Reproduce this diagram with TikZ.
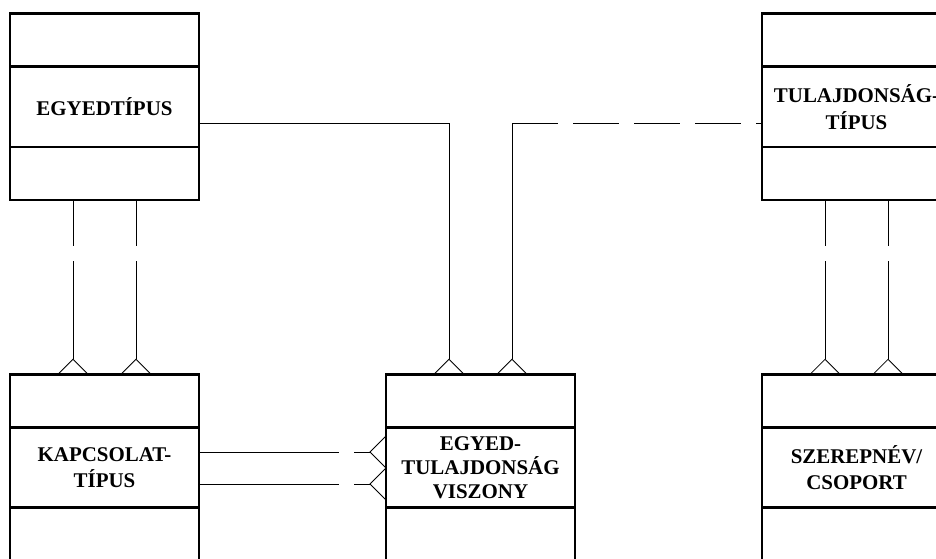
\documentclass[tikz,border=0pt]{standalone}
\usepackage{fontspec}
\setmainfont{Liberation Serif}
\usetikzlibrary{positioning}

\begin{document}
\begin{tikzpicture}[x=0.75pt,y=-0.75pt,
  box/.style={draw,line width=1.9pt,minimum width=141.75pt,inner sep=0pt,outer sep=0pt},
  midbox/.style={box,minimum height=60.3pt,align=center,font=\bfseries\fontsize{15.7}{20}\selectfont},
  endbox/.style={box,minimum height=39.75pt},
  rel/.style={line width=0.6pt},
  halfdash/.style={dash pattern=on 34.5pt off 11.25pt},
  crowtop/.pic={\draw[rel] (-15,0) -- (0,-15) -- (15,0);},
  crowleft/.pic={\draw[rel] (0,-16) -- (-16,0) -- (0,16);}]
\useasboundingbox (0,0) rectangle (936,558);
\clip (0,0) rectangle (936,558);

% entity boxes
\node[midbox] (egyed) at (104.5,106.8) {EGYEDTÍPUS};
\node[endbox,above=0pt of egyed] (egyed_t) {};
\node[endbox,below=0pt of egyed] (egyed_b) {};

\node[midbox] (tulaj) at (856.5,106.8) {TULAJDONSÁG-\\TÍPUS};
\node[endbox,above=0pt of tulaj] (tulaj_t) {};
\node[endbox,below=0pt of tulaj] (tulaj_b) {};

\node[midbox] (kapcs) at (104.5,467.5) {KAPCSOLAT-\\TÍPUS};
\node[endbox,above=0pt of kapcs] (kapcs_t) {};
\node[endbox,below=0pt of kapcs] (kapcs_b) {};

\node[midbox] (viszony) at (480.5,467.5) {EGYED-\\[-2pt]TULAJDONSÁG\\[-2pt]VISZONY};
\node[endbox,above=0pt of viszony] (viszony_t) {};
\node[endbox,below=0pt of viszony] (viszony_b) {};

\node[midbox] (szerep) at (856.5,467.5) {SZEREPNÉV/\\CSOPORT};
\node[endbox,above=0pt of szerep] (szerep_t) {};
\node[endbox,below=0pt of szerep] (szerep_b) {};

% line positions
\foreach \n/\x in {a/73,b/136,c/449,d/512,e/825,f/888,m/293}
  \coordinate (x\n) at (\x,0);
\foreach \n/\y in {a/123,b/452,c/484,m/287}
  \coordinate (y\n) at (0,\y);

% egyedtipus -- kapcsolattipus
\foreach \k in {a,b} {
  \draw[rel,halfdash] (egyed_b.south -| x\k) -- (x\k |- ym);
  \draw[rel,shorten >=11.25pt] (x\k |- ym) -- (kapcs_t.north -| x\k);
  \pic at (kapcs_t.north -| x\k) {crowtop};
}

% tulajdonsagtipus -- szerepnev
\foreach \k in {e,f} {
  \draw[rel,halfdash] (tulaj_b.south -| x\k) -- (x\k |- ym);
  \draw[rel,shorten >=11.25pt] (x\k |- ym) -- (szerep_t.north -| x\k);
  \pic at (szerep_t.north -| x\k) {crowtop};
}

% kapcsolattipus -- egyed-tulajdonsag viszony
\foreach \k in {b,c} {
  \draw[rel] (kapcs.east |- y\k) -- (xm |- y\k);
  \draw[rel,halfdash,shorten >=12pt] (xm |- y\k) -- (viszony.west |- y\k);
  \pic at (viszony.west |- y\k) {crowleft};
}

% egyedtipus -- viszony
\draw[rel,shorten >=11.25pt] (egyed.east |- ya) -| (viszony_t.north -| xc);
\pic at (viszony_t.north -| xc) {crowtop};

% tulajdonsagtipus -- viszony
\draw[rel,halfdash] (xd |- ya) -- (tulaj.west |- ya);
\draw[rel,shorten >=11.25pt] (xd |- ya) -- (viszony_t.north -| xd);
\pic at (viszony_t.north -| xd) {crowtop};
\end{tikzpicture}
\end{document}
